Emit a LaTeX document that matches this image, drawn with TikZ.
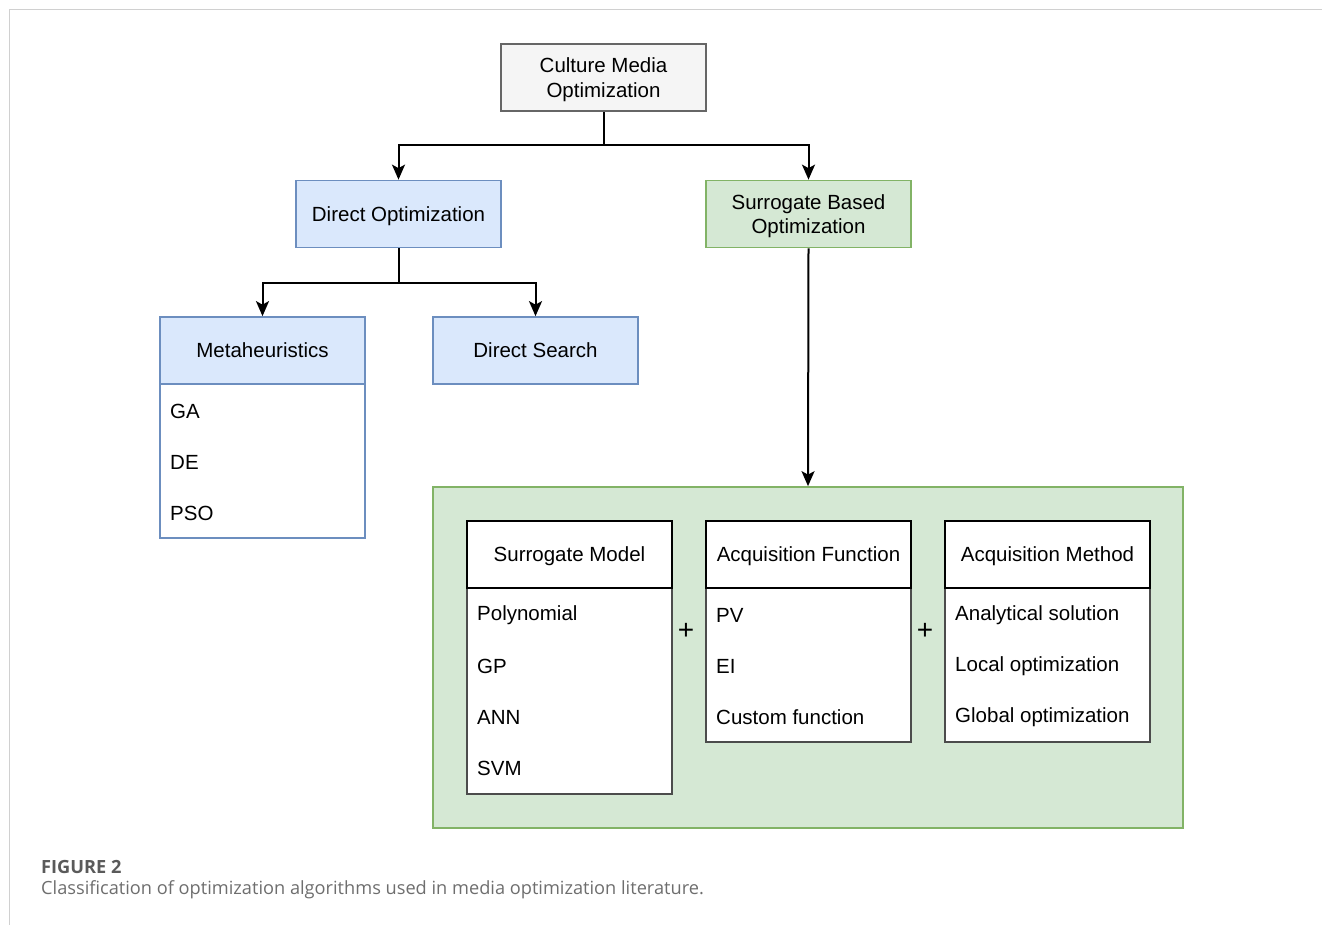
\documentclass[tikz,border=0pt]{standalone}
\usepackage{fontspec}
\setmainfont{Liberation Sans}
\newfontfamily\capfont{Open Sans}
\usetikzlibrary{arrows.meta,positioning}
\definecolor{gfill}{HTML}{F5F5F5}
\definecolor{gdraw}{HTML}{666666}
\definecolor{bfill}{HTML}{DAE8FC}
\definecolor{bdraw}{HTML}{6C8EBF}
\definecolor{grfill}{HTML}{D5E8D4}
\definecolor{grdraw}{HTML}{82B366}
\definecolor{framec}{HTML}{D0D0D0}
\definecolor{capdark}{HTML}{5A5A5A}
\definecolor{caplight}{HTML}{6E6E6E}
\newcommand\boxfont{\fontsize{20.5}{24.5}\selectfont}
\tikzset{
  base/.style={draw, line width=1.7pt, minimum width=205pt, minimum height=67pt, inner sep=0pt, align=center, font=\boxfont, text depth=-2pt},
  graybox/.style={base, fill=gfill, draw=gdraw},
  bluebox/.style={base, fill=bfill, draw=bdraw},
  greenbox/.style={base, fill=grfill, draw=grdraw},
  whitehead/.style={base, fill=white, draw=black},
  listbody/.style={draw, line width=1.7pt, minimum width=205pt, inner sep=0pt, fill=white},
  item/.style={anchor=west, inner sep=0pt, font=\boxfont},
  arr/.style={line width=2pt, -{Stealth[length=15pt,width=13pt,inset=3.5pt]}},
  plain/.style={line width=2pt},
  plusnode/.style={inner sep=0pt, font=\fontsize{28}{28}\selectfont}
}
\begin{document}
\begin{tikzpicture}[x=1pt,y=-1pt]
\useasboundingbox (0,0) rectangle (1322,925);
% frame
\draw[framec, line width=1.7pt] (9.5,925) -- (9.5,9.5) -- (1322,9.5);

% top level
\node[graybox] (cmo) at (603.5,77.5) {Culture Media\\Optimization};
\node[bluebox] (dir) at (398.5,214) {Direct Optimization};
\node[greenbox] (sbo) at (808.5,214) {Surrogate Based\\Optimization};

\coordinate (split1) at (603.5,145);
\draw[plain] (cmo.south) -- (split1);
\draw[arr] (split1) -| (dir.north);
\draw[arr] (split1) -| (sbo.north);

% direct optimization children
\node[listbody, draw=bdraw, minimum height=154pt] (metabody) at (262.5,461) {};
\node[bluebox] (meta) at (262.5,350.5) {Metaheuristics};
\node[bluebox] (ds) at (535.5,350.5) {Direct Search};
\node[item] (ga) at (170,411) {GA};
\node[item] (de) at (170,462) {DE};
\node[item] (pso) at (170,513) {PSO};

\coordinate (split2) at (398.5,283);
\draw[plain] (dir.south) -- (split2);
\draw[arr] (split2) -| (meta.north);
\draw[arr] (split2) -| (ds.north);

% surrogate container
\node[draw=grdraw, fill=grfill, line width=1.7pt, minimum width=750pt, minimum height=341pt, inner sep=0pt] (cont) at (808,657.5) {};
\draw[arr] (sbo.south) -- (cont.north);

% surrogate model
\node[listbody, draw=black!70, minimum height=206pt] (smbody) at (569.5,691) {};
\node[whitehead] (sm) at (569.5,554.5) {Surrogate Model};
\node[item] (poly) at (477,615) {Polynomial};
\node[item] (gp) at (477,666) {GP};
\node[item] (ann) at (477,717) {ANN};
\node[item] (svm) at (477,768) {SVM};

% acquisition function
\node[listbody, draw=black!70, minimum height=154pt] (afbody) at (808.5,665) {};
\node[whitehead] (af) at (808.5,554.5) {Acquisition Function};
\node[item] (pv) at (716,615) {PV};
\node[item] (ei) at (716,666) {EI};
\node[item] (cf) at (716,717) {Custom function};

% acquisition method
\node[listbody, draw=black!70, minimum height=154pt] (ambody) at (1047.5,665) {};
\node[whitehead] (am) at (1047.5,554.5) {Acquisition Method};
\node[item] (an) at (955,615) {Analytical solution};
\node[item] (lo) at (955,666) {Local optimization};
\node[item] (go) at (955,717) {Global optimization};

% plus signs
\node[plusnode] (plus1) at (686,631) {+};
\node[plusnode] (plus2) at (925,631) {+};

% caption
\node[anchor=west, inner sep=0pt, font=\capfont\fontsize{18.2}{21}\selectfont\bfseries, text=capdark] (fig) at (41,867) {FIGURE 2};
\node[anchor=west, inner sep=0pt, font=\capfont\fontsize{18.2}{21}\selectfont, text=caplight] (capt) at (41,890) {Classification of optimization algorithms used in media optimization literature.};
\end{tikzpicture}
\end{document}
